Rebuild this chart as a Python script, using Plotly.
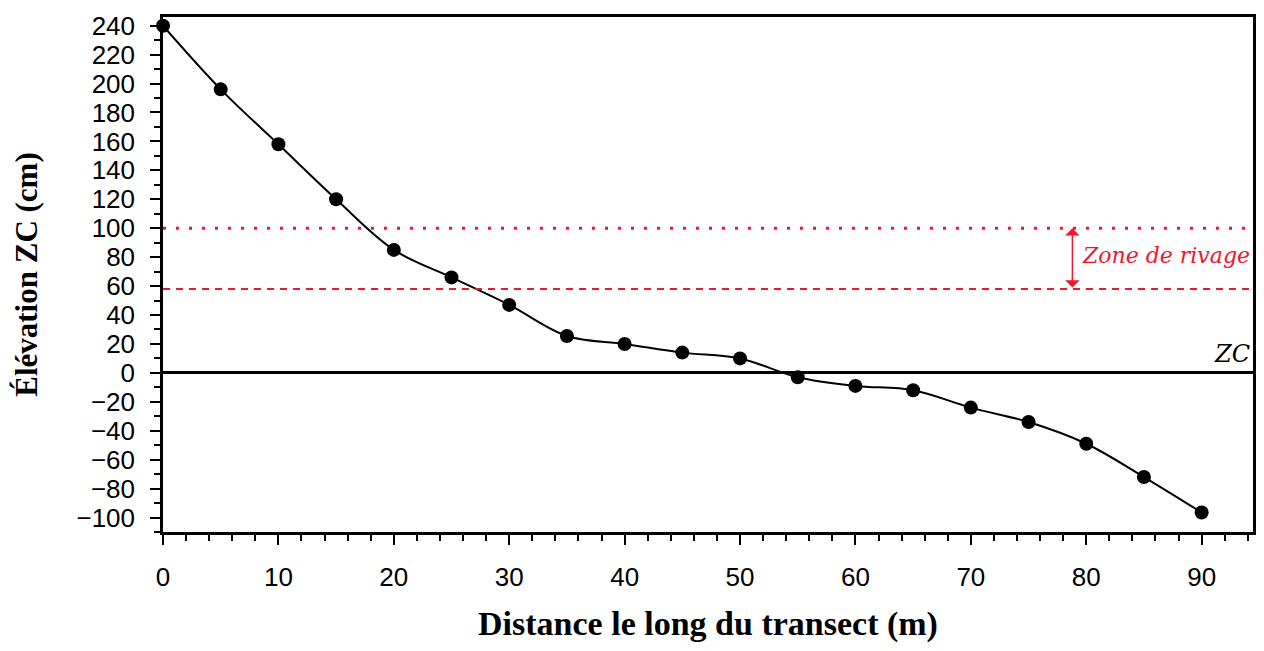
import plotly.graph_objects as go

distance_m = [0, 5, 10, 15, 20, 25, 30, 35, 40, 45, 50, 55, 60, 65, 70, 75, 80, 85, 90]
elevation_cm = [240, 196, 158, 120, 85, 66, 47, 25.5, 20, 14, 10, -3, -9, -12, -24, -34, -49, -72, -96.5]
zone_top = 100
zone_bottom = 58
arrow_x = 78.8
x_ticks = [0, 10, 20, 30, 40, 50, 60, 70, 80, 90]
y_ticks = [-100, -80, -60, -40, -20, 0, 20, 40, 60, 80, 100, 120, 140, 160, 180, 200, 220, 240]
x_max = 94.45

RED = "#f0162e"

fig = go.Figure()
fig.add_trace(go.Scatter(
    x=distance_m, y=elevation_cm, mode="lines+markers",
    line=dict(color="black", width=2, shape="spline", smoothing=1.0),
    marker=dict(color="black", size=14),
    showlegend=False, cliponaxis=False,
))

fig.add_shape(type="line", xref="x", yref="y", x0=0, x1=x_max, y0=zone_top, y1=zone_top,
              line=dict(color=RED, width=3, dash="3px,10px"))
fig.add_shape(type="line", xref="x", yref="y", x0=0, x1=x_max, y0=zone_bottom, y1=zone_bottom,
              line=dict(color=RED, width=2, dash="7px,6px"))

fig.add_annotation(x=arrow_x, y=zone_top, ax=arrow_x, ay=zone_bottom,
                   xref="x", yref="y", axref="x", ayref="y", text="",
                   showarrow=True, arrowside="end+start", arrowhead=1,
                   arrowsize=1.6, arrowwidth=1.5, arrowcolor=RED)
fig.add_annotation(x=x_max - 0.1, y=(zone_top + zone_bottom) / 2 + 2, xref="x", yref="y",
                   text="<i>Zone de rivage</i>", showarrow=False, xanchor="right",
                   font=dict(family="DejaVu Serif", size=22, color=RED))
fig.add_annotation(x=x_max - 0.1, y=0, xref="x", yref="y", text="<i>ZC</i>", showarrow=False,
                   xanchor="right", yanchor="bottom", yshift=3,
                   font=dict(family="DejaVu Serif", size=24, color="black"))

axis_common = dict(showline=True, linecolor="black", linewidth=2.5, mirror=True,
                   showgrid=False, ticks="outside", tickcolor="black", tickwidth=2,
                   ticklen=10, ticklabelstandoff=10,
                   tickfont=dict(family="Liberation Sans", size=26, color="black"))

fig.update_xaxes(range=[0, x_max], tickvals=x_ticks, zeroline=False,
                 minor=dict(dtick=2, tick0=0, ticks="outside", ticklen=6, tickwidth=2, tickcolor="black"),
                 title=dict(text="<b>Distance le long du transect (m)</b>",
                            font=dict(family="Liberation Serif", size=34, color="black"), standoff=27),
                 **axis_common)
fig.update_yaxes(range=[-110, 246], tickvals=y_ticks, zeroline=True, zerolinecolor="black",
                 zerolinewidth=3,
                 minor=dict(dtick=10, tick0=0, ticks="outside", ticklen=6, tickwidth=2, tickcolor="black"),
                 title=dict(text="<b>Élévation ZC (cm)</b>",
                            font=dict(family="Liberation Serif", size=31, color="black"), standoff=30),
                 **axis_common)

fig.update_layout(width=1248, height=635, paper_bgcolor="white", plot_bgcolor="white",
                  margin=dict(l=155, r=0, t=9, b=109))
fig.write_html("out.html")
